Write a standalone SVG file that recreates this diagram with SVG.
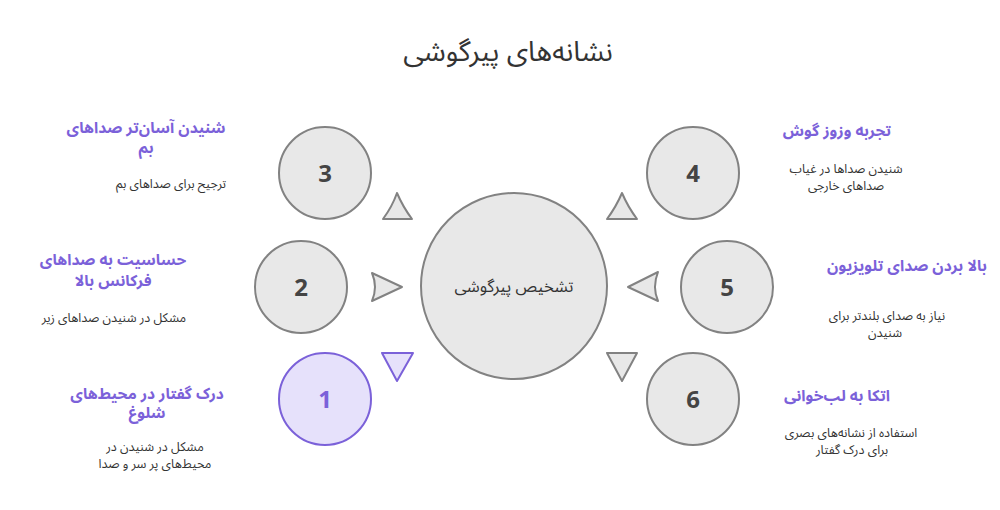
<svg xmlns="http://www.w3.org/2000/svg" width="1000" height="510" viewBox="0 0 1000 510">
<style>
text{font-family:"Noto Sans Arabic","DejaVu Sans","Noto Sans",sans-serif;direction:rtl;text-anchor:middle}
.title{font-size:28px;fill:#333}
.h{font-size:15.5px;font-weight:bold;fill:#7b61d9}
.d{font-size:12.5px;fill:#333}
.c{fill:#e8e8e8;stroke:#828282;stroke-width:2}
.cp{fill:#e6e1fb;stroke:#7b61d9;stroke-width:2}
.n{font-family:"Noto Sans","DejaVu Sans",sans-serif;font-size:24px;font-weight:bold;fill:#444;direction:ltr}
.np{fill:#7b61d9}
.t{fill:#e8e8e8;stroke:#828282;stroke-width:2;stroke-linejoin:round}
.tp{fill:#e6e1fb;stroke:#7b61d9;stroke-width:2;stroke-linejoin:round}
.ct{font-size:16.5px;fill:#333}
</style>
<rect width="1000" height="510" fill="#fff"/>
<text class="title" x="508" y="61">نشانه‌های پیرگوشی</text>

<g id="connectors">
<path class="t" d="M397,193 Q392,207 383,219 L412,219 Q403,207 397,193 Z"/>
<path class="t" d="M622,193 Q616,207 607,219 L637,219 Q628,207 622,193 Z"/>
<path class="t" d="M372,273 Q378,287 372,301 L402,287 Z"/>
<path class="t" d="M658,272 Q652,287 658,301 L628,287 Z"/>
<path class="tp" d="M382,353 L413,353 L397,381 Z"/>
<path class="t" d="M607,353 L637,353 L622,381 Z"/>
</g>

<g id="center">
<circle class="c" cx="514" cy="286" r="93"/>
<text class="ct" x="514" y="292">تشخیص پیرگوشی</text>
</g>

<g id="node3">
<circle class="c" cx="325" cy="173" r="46"/>
<text class="n" x="325" y="182">3</text>
<text class="h" x="146" y="133">شنیدن آسان‌تر صداهای</text>
<text class="h" x="146" y="153">بم</text>
<text class="d" x="171" y="188">ترجیح برای صداهای بم</text>
</g>

<g id="node2">
<circle class="c" cx="301" cy="287" r="46"/>
<text class="n" x="301" y="296">2</text>
<text class="h" x="113" y="265">حساسیت به صداهای</text>
<text class="h" x="113" y="286">فرکانس بالا</text>
<text class="d" x="114" y="322">مشکل در شنیدن صداهای زیر</text>
</g>

<g id="node1">
<circle class="cp" cx="325" cy="399" r="46"/>
<text class="n np" x="325" y="408">1</text>
<text class="h" x="147" y="399">درک گفتار در محیط‌های</text>
<text class="h" x="147" y="418">شلوغ</text>
<text class="d" x="155" y="451">مشکل در شنیدن در</text>
<text class="d" x="155" y="468">محیط‌های پر سر و صدا</text>
</g>

<g id="node4">
<circle class="c" cx="693" cy="173" r="46"/>
<text class="n" x="693" y="182">4</text>
<text class="h" x="837" y="136">تجربه وزوز گوش</text>
<text class="d" x="846" y="173">شنیدن صداها در غیاب</text>
<text class="d" x="846" y="190">صداهای خارجی</text>
</g>

<g id="node5">
<circle class="c" cx="727" cy="287" r="46"/>
<text class="n" x="727" y="296">5</text>
<text class="h" x="907" y="271">بالا بردن صدای تلویزیون</text>
<text class="d" x="887" y="320">نیاز به صدای بلندتر برای</text>
<text class="d" x="885" y="337">شنیدن</text>
</g>

<g id="node6">
<circle class="c" cx="693" cy="399" r="46"/>
<text class="n" x="693" y="408">6</text>
<text class="h" x="837" y="401">اتکا به لب‌خوانی</text>
<text class="d" x="851" y="437">استفاده از نشانه‌های بصری</text>
<text class="d" x="852" y="454">برای درک گفتار</text>
</g>
</svg>
